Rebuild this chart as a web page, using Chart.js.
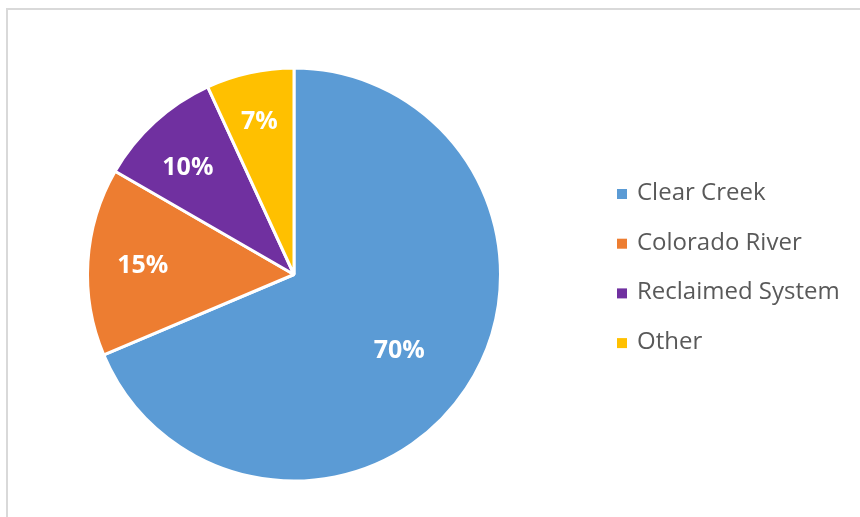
<!DOCTYPE html>
<html>
<head>
<meta charset="utf-8">
<script src="https://cdn.jsdelivr.net/npm/chart.js@4/dist/chart.umd.min.js"></script>
<style>
  html, body { margin: 0; padding: 0; background: #ffffff; }
  #wrap { position: relative; width: 860px; height: 517px; overflow: hidden; }
  #frame { position: absolute; left: 6px; top: 8px; width: 900px; height: 600px;
           border-left: 2px solid #d9d9d9; border-top: 2px solid #d9d9d9; }
  #c { position: absolute; left: 0; top: 0; }
</style>
</head>
<body>
<div id="wrap">
  <div id="frame"></div>
  <canvas id="c" width="860" height="517"></canvas>
</div>
<script>
const categories = ["Clear Creek", "Colorado River", "Reclaimed System", "Other"];
const values = [70, 15, 10, 7];
const valueLabels = ["70%", "15%", "10%", "7%"];
const colors = ["#5B9BD5", "#ED7D31", "#7030A0", "#FFC000"];

// label placement (style only): radial ratio and small angular nudge in degrees
const labelRatios = [0.622, 0.734, 0.738, 0.77];
const labelNudgeDeg = [1.4, 0.5, -1.8, -0.2];

const sliceLabels = {
  id: 'sliceLabels',
  afterDatasetsDraw(chart) {
    const ctx = chart.ctx;
    const meta = chart.getDatasetMeta(0);
    ctx.save();
    ctx.fillStyle = '#ffffff';
    ctx.font = 'bold 25px "Open Sans", "DejaVu Sans", sans-serif';
    ctx.textAlign = 'center';
    ctx.textBaseline = 'middle';
    meta.data.forEach((arc, i) => {
      const p = arc.getProps(['x', 'y', 'startAngle', 'endAngle', 'outerRadius'], true);
      const mid = (p.startAngle + p.endAngle) / 2 + labelNudgeDeg[i] * Math.PI / 180;
      const r = p.outerRadius * labelRatios[i];
      ctx.fillText(valueLabels[i], p.x + Math.cos(mid) * r, p.y + Math.sin(mid) * r + 2.5);
    });
    ctx.restore();
  }
};

const sideLegend = {
  id: 'sideLegend',
  afterDraw(chart) {
    const ctx = chart.ctx;
    const ds = chart.data.datasets[0];
    const x0 = 617, y0 = 193, step = 49.7, box = 10;
    ctx.save();
    ctx.font = '24px "Open Sans", "DejaVu Sans", sans-serif';
    ctx.textBaseline = 'middle';
    ctx.textAlign = 'left';
    chart.data.labels.forEach((lab, i) => {
      const y = y0 + i * step;
      ctx.fillStyle = ds.backgroundColor[i];
      ctx.fillRect(x0, y - box / 2 + 1, box, box);
      ctx.fillStyle = '#595959';
      ctx.fillText(lab, x0 + 20, y);
    });
    ctx.restore();
  }
};

new Chart(document.getElementById('c'), {
  type: 'pie',
  data: {
    labels: categories,
    datasets: [{
      data: values,
      backgroundColor: colors,
      borderColor: '#ffffff',
      borderWidth: 3
    }]
  },
  options: {
    responsive: false,
    animation: false,
    layout: { padding: { left: 86, top: 66, right: 358, bottom: 34 } },
    plugins: {
      legend: { display: false },
      tooltip: { enabled: false }
    }
  },
  plugins: [sliceLabels, sideLegend]
});
</script>
</body>
</html>
